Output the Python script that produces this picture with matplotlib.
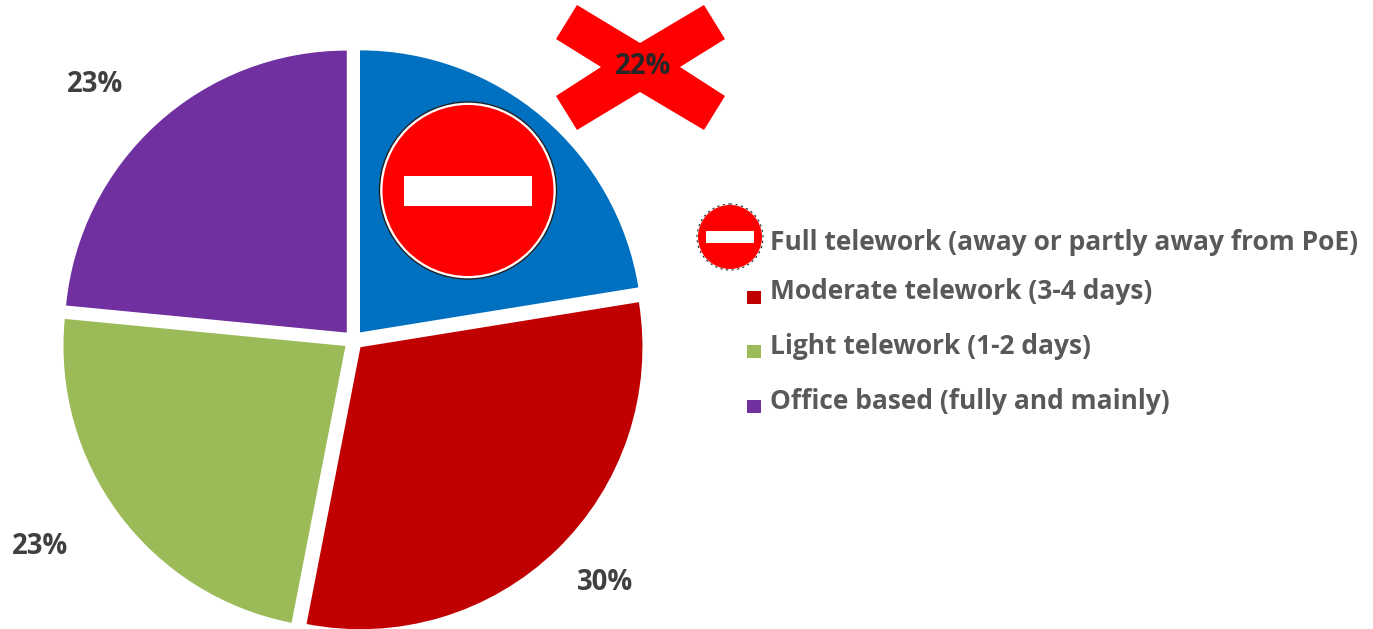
import matplotlib
matplotlib.use("Agg")
import matplotlib.pyplot as plt
from matplotlib.patches import Circle, Polygon, Rectangle

W, H = 1373, 629

# share of respondents per telework category
categories = [
    "Full telework (away or partly away from PoE)",
    "Moderate telework (3-4 days)",
    "Light telework (1-2 days)",
    "Office based (fully and mainly)",
]
shares = [22, 30, 23, 23]
colors = ["#0070C0", "#C00000", "#9BBB59", "#7030A0"]

TEXT_FONT = ["Open Sans", "DejaVu Sans"]


def no_entry_sign(ax, cx, cy, r_out, r_red, bar_w, bar_h, ring):
    # round red sign with a white bar, ring style differs between the two uses
    ax.add_patch(Circle((cx, cy), r_out, zorder=5, **ring))
    ax.add_patch(Circle((cx, cy), r_red, fc="#FF0000", ec="none", zorder=6))
    ax.add_patch(Rectangle((cx - bar_w / 2, cy - bar_h / 2), bar_w, bar_h,
                           fc="white", ec="none", zorder=7))


fig = plt.figure(figsize=(W / 100, H / 100), dpi=100, facecolor="white")
ax = fig.add_axes([0, 0, 1, 1])

# y axis points down here, so counterclock=True runs clockwise on screen
ax.pie(shares, colors=colors, startangle=270, counterclock=True,
       radius=282, center=(353.5, 340), explode=[10] * 4,
       wedgeprops={"linewidth": 0})
ax.set_xlim(0, W)
ax.set_ylim(H, 0)
ax.set_aspect("equal")
ax.axis("off")

# red cross behind the 22% label
cross = [(577, 5), (640, 43), (704, 5), (725, 39), (680, 67), (725, 96),
         (704, 130), (640, 92), (577, 130), (556, 96), (601, 67), (556, 39)]
ax.add_patch(Polygon(cross, closed=True, fc="#FF0000", ec="none", zorder=3))

# percentage labels around the pie
label_xy = [(643, 66), (605, 583), (40, 547), (95, 85)]
for share, (x, y) in zip(shares, label_xy):
    ax.text(x, y, f"{share}%", ha="center", va="center", fontsize=19.8,
            fontweight="bold", family=TEXT_FONT,
            color="#262626" if share == 22 else "#404040", zorder=8)

# sign on the blue slice
no_entry_sign(ax, 468, 190.5, 88.5, 85.5, 128, 30,
              {"fc": "white", "ec": "#222222", "lw": 1.0})

# hand-built legend, first entry uses the sign as its key
no_entry_sign(ax, 730, 237, 33, 32, 48, 11.5,
              {"fc": "white", "ec": "#222222", "lw": 0.8, "ls": (0, (2, 3))})
legend_base = [250, 299, 354, 409]
key_top = [None, 291, 345, 400]
for i, name in enumerate(categories):
    ax.text(770, legend_base[i], name, ha="left", va="baseline", fontsize=19,
            fontweight="bold", family=TEXT_FONT, color="#595959", zorder=8)
    if key_top[i] is not None:
        ax.add_patch(Rectangle((747, key_top[i]), 13.5, 13, fc=colors[i],
                               ec="none", zorder=8))

fig.savefig("out.png", dpi=100, facecolor="white")
plt.close(fig)
